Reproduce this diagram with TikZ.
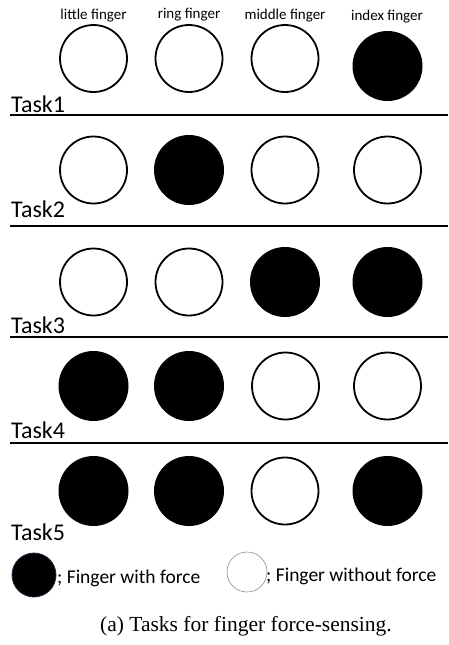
\documentclass[tikz,border=0pt]{standalone}
\usepackage{fontspec}
\setmainfont{Carlito}
\newfontfamily\capfont{Liberation Serif}
\begin{document}
\begin{tikzpicture}[x=1pt,y=-1pt,
  fon/.style={circle,fill=black,draw=none,minimum size=70pt,inner sep=0pt},
  foff/.style={circle,fill=white,draw=black,line width=1.8pt,minimum size=67pt,inner sep=0pt},
  fname/.style={font=\fontsize{15}{15}\selectfont,inner sep=0pt},
  task/.style={font=\fontsize{24}{24}\selectfont,inner sep=0pt,anchor=base west},
  sep/.style={line width=1.8pt},
  legtxt/.style={font=\fontsize{19.5}{19.5}\selectfont,inner sep=0pt,anchor=west}]
\useasboundingbox (0,0) rectangle (448,645);
% finger names
\node[fname] (n1) at (93.5,16) {little finger};
\node[fname] (n2) at (189,15) {ring finger};
\node[fname] (n3) at (285,16) {middle finger};
\node[fname] (n4) at (387,17) {index finger};
% Task 1
\node[foff] (a1) at (93.5,58.5) {};
\node[foff] (a2) at (189,58.5) {};
\node[foff] (a3) at (285,58.5) {};
\node[fon] (a4) at (387.5,66) {};
\node[task] (t1) at (11,112) {Task1};
\coordinate (l1a) at (10,115); \coordinate (l1b) at (448,115);
\draw[sep] (l1a) -- (l1b);
% Task 2
\node[foff] (b1) at (93.5,170) {};
\node[fon] (b2) at (189,170) {};
\node[foff] (b3) at (285,170) {};
\node[foff] (b4) at (387.5,170) {};
\node[task] (t2) at (11,217) {Task2};
\coordinate (l2a) at (10,226); \coordinate (l2b) at (448,226);
\draw[sep] (l2a) -- (l2b);
% Task 3
\node[foff] (c1) at (93.5,282) {};
\node[foff] (c2) at (189,282) {};
\node[fon] (c3) at (285,282) {};
\node[fon] (c4) at (387.5,282) {};
\node[task] (t3) at (11,333) {Task3};
\coordinate (l3a) at (10,337); \coordinate (l3b) at (448,337);
\draw[sep] (l3a) -- (l3b);
% Task 4
\node[fon] (d1) at (93.5,386) {};
\node[fon] (d2) at (189,386) {};
\node[foff] (d3) at (285.5,386) {};
\node[foff] (d4) at (387.5,386) {};
\node[task] (t4) at (11,438) {Task4};
\coordinate (l4a) at (10,443); \coordinate (l4b) at (448,443);
\draw[sep] (l4a) -- (l4b);
% Task 5
\node[fon] (e1) at (93.5,491) {};
\node[fon] (e2) at (189,491) {};
\node[foff] (e3) at (285,491) {};
\node[fon] (e4) at (387.5,491) {};
\node[task] (t5) at (11,540) {Task5};
% legend
\definecolor{legblue}{HTML}{1F2A44}
\node[circle,fill=black,draw=legblue,line width=0.8pt,minimum size=44pt,inner sep=0pt] (lg1) at (34,575) {};
\node[legtxt] (lt1) at (57,578) {; Finger with force};
\node[circle,fill=white,draw=black!45,line width=0.6pt,minimum size=40pt,inner sep=0pt] (lg2) at (247,572) {};
\node[legtxt] (lt2) at (266,576) {; Finger without force};
% caption
\node[font=\capfont\fontsize{21.5}{21.5}\selectfont,inner sep=0pt] (cap) at (246,626) {(a) Tasks for finger force-sensing.};
\end{tikzpicture}
\end{document}
